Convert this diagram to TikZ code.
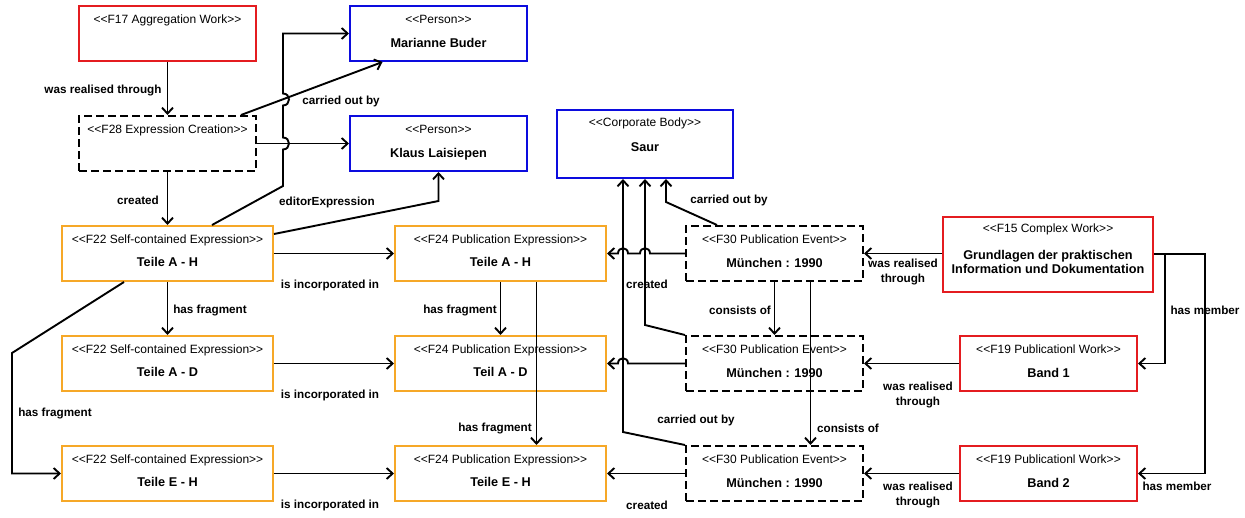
\documentclass[tikz,border=0pt]{standalone}
\usepackage{fontspec}
\setmainfont{Liberation Sans}[Ligatures=TeXOff]
\usetikzlibrary{arrows.meta}
\definecolor{cred}{RGB}{228,28,32}
\definecolor{cblue}{RGB}{12,12,222}
\definecolor{corange}{RGB}{246,168,40}
\begin{document}
\begin{tikzpicture}[x=1pt,y=-1pt,
  box/.style={draw=#1, line width=2pt, fill=white, inner sep=0pt},
  dbox/.style={draw=black, line width=2pt, fill=white, inner sep=0pt, dash pattern=on 8pt off 4pt},
  w177/.style={minimum width=177pt, minimum height=55pt},
  w211/.style={minimum width=211pt, minimum height=55pt},
  st/.style={inner sep=0pt, font=\fontsize{12}{13}\selectfont, text height=8.5pt, text depth=2.5pt},
  nm/.style={inner sep=0pt, font=\fontsize{12.7}{15}\selectfont\bfseries, text height=9pt, text depth=2.5pt},
  lb/.style={inner sep=0pt, font=\fontsize{11.7}{15}\selectfont\bfseries, align=center},
  conn/.style={draw=black, line width=1.9pt, -{Straight Barb[length=6pt,width=11pt,line width=1.9pt]}}]
\useasboundingbox (0,0) rectangle (1245,517);
% boxes
\node[box=cred, w177] (f17) at (167.5,33.5) {};
\node[dbox, w177] (f28) at (167.5,143.5) {};
\node[box=cblue, w177] (mb) at (438.5,33.5) {};
\node[box=cblue, w177] (kl) at (438.5,143.5) {};
\node[box=cblue, minimum width=176pt, minimum height=68pt] (saur) at (645,144) {};
\node[box=corange, w211] (f22ah) at (167.5,253.5) {};
\node[box=corange, w211] (f22ad) at (167.5,363.5) {};
\node[box=corange, w211] (f22eh) at (167.5,473.5) {};
\node[box=corange, w211] (f24ah) at (500.5,253.5) {};
\node[box=corange, w211] (f24ad) at (500.5,363.5) {};
\node[box=corange, w211] (f24eh) at (500.5,473.5) {};
\node[dbox, w177] (f30t) at (774.5,253.5) {};
\node[dbox, w177] (f30m) at (774.5,363.5) {};
\node[dbox, w177] (f30b) at (774.5,473.5) {};
\node[box=cred, minimum width=210pt, minimum height=75pt] (f15) at (1048,254) {};
\node[box=cred, w177] (b1) at (1048.5,363.5) {};
\node[box=cred, w177] (b2) at (1048.5,473.5) {};
% texts
\node[st] (f17s) at (167.5,20) {<<F17 Aggregation Work>>};
\node[st] (f28s) at (167.5,130) {<<F28 Expression Creation>>};
\node[st] (mbs) at (438.5,20) {<<Person>>};
\node[nm] (mbn) at (438.5,44) {Marianne Buder};
\node[st] (kls) at (438.5,130) {<<Person>>};
\node[nm] (kln) at (438.5,154) {Klaus Laisiepen};
\node[st] (saurs) at (645,123) {<<Corporate Body>>};
\node[nm] (saurn) at (645,148) {Saur};
\node[st] (f22ahs) at (167.5,240) {<<F22 Self-contained Expression>>};
\node[nm] (f22ahn) at (167.5,263) {Teile A - H};
\node[st] (f22ads) at (167.5,350) {<<F22 Self-contained Expression>>};
\node[nm] (f22adn) at (167.5,373) {Teile A - D};
\node[st] (f22ehs) at (167.5,460) {<<F22 Self-contained Expression>>};
\node[nm] (f22ehn) at (167.5,483) {Teile E - H};
\node[st] (f24ahs) at (500.5,240) {<<F24 Publication Expression>>};
\node[nm] (f24ahn) at (500.5,263) {Teile A - H};
\node[st] (f24ads) at (500.5,350) {<<F24 Publication Expression>>};
\node[nm] (f24adn) at (500.5,373) {Teil A - D};
\node[st] (f24ehs) at (500.5,460) {<<F24 Publication Expression>>};
\node[nm] (f24ehn) at (500.5,483) {Teile E - H};
\node[st] (f30ts) at (774.5,240) {<<F30 Publication Event>>};
\node[nm] (f30tn) at (774.5,264) {München : 1990};
\node[st] (f30ms) at (774.5,350) {<<F30 Publication Event>>};
\node[nm] (f30mn) at (774.5,374) {München : 1990};
\node[st] (f30bs) at (774.5,460) {<<F30 Publication Event>>};
\node[nm] (f30bn) at (774.5,484) {München : 1990};
\node[st] (f15s) at (1048,229) {<<F15 Complex Work>>};
\node[nm, align=center, text height=, text depth=] (f15n) at (1048,262) {Grundlagen der praktischen\\[-1pt]Information und Dokumentation};
\node[st] (b1s) at (1048.5,350) {<<F19 Publicationl Work>>};
\node[nm] (b1n) at (1048.5,374) {Band 1};
\node[st] (b2s) at (1048.5,460) {<<F19 Publicationl Work>>};
\node[nm] (b2n) at (1048.5,484) {Band 2};
% labels
\node[lb] (l1) at (103,90) {was realised through};
\node[lb] (l2) at (341,101) {carried out by};
\node[lb] (l3) at (138,200) {created};
\node[lb] (l4) at (327,202) {editorExpression};
\node[lb] (l5) at (330,285) {is incorporated in};
\node[lb] (l6) at (330,395) {is incorporated in};
\node[lb] (l7) at (330,505) {is incorporated in};
\node[lb] (l8) at (210,310) {has fragment};
\node[lb] (l9) at (55,413) {has fragment};
\node[lb] (l10) at (460,310) {has fragment};
\node[lb] (l11) at (495,428) {has fragment};
\node[lb] (l12) at (647,284) {created};
\node[lb] (l13) at (647,505) {created};
\node[lb] (l14) at (729,200) {carried out by};
\node[lb] (l15) at (740,310) {consists of};
\node[lb] (l16) at (696,420) {carried out by};
\node[lb] (l17) at (848,428) {consists of};
\node[lb] (l18) at (903,272) {was realised\\through};
\node[lb] (l19) at (918,395) {was realised\\through};
\node[lb] (l20) at (918,495) {was realised\\through};
\node[lb] (l21) at (1205,310) {has member};
\node[lb] (l22) at (1177,486) {has member};
% connectors
\draw[conn] (f17.south) -- (f28.north);
\draw[conn] ([xshift=-16pt]f28.north east) -- ([xshift=-56pt]mb.south);
\draw[conn] (f28.east) -- (kl.west);
\draw[conn] (f28.south) -- (f22ah.north);
\draw[conn] ([xshift=44.5pt]f22ah.north) -- (283,186) -- (283,149.5)
  .. controls (291,149.5) and (291,137.5) .. (283,137.5) -- (283,105.5)
  .. controls (291,105.5) and (291,93.5) .. (283,93.5) -- (283,33.5) -- (mb.west);
\draw[conn] ([yshift=-9pt]f22ah.north east) -- (438.5,201) -- (kl.south);
\draw[conn] (f22ah.east) -- (f24ah.west);
\draw[conn] (f22ad.east) -- (f24ad.west);
\draw[conn] (f22eh.east) -- (f24eh.west);
\draw[conn] (f22ah.south) -- (f22ad.north);
\draw[conn] ([xshift=-43.5pt]f22ah.south) -- (12,353) -- (12,473.5) -- (f22eh.west);
\draw[conn] (f24ah.south) -- (f24ad.north);
\draw[conn] ([xshift=36pt]f24ah.south) -- ([xshift=36pt]f24eh.north);
\draw[conn] (f30t.west) -- (650,253.5) .. controls (650,246.5) and (640,246.5) .. (640,253.5)
  -- (628,253.5) .. controls (628,246.5) and (618,246.5) .. (618,253.5) -- (f24ah.east);
\draw[conn] (f30m.west) -- (628,363.5) .. controls (628,356.5) and (618,356.5) .. (618,363.5) -- (f24ad.east);
\draw[conn] (f30b.west) -- (f24eh.east);
\draw[conn] ([xshift=-57.5pt]f30t.north) -- (666,202) -- ([xshift=21pt]saur.south);
\draw[conn] (f30m.north west) -- (645,325) -- (saur.south);
\draw[conn] (f30b.north west) -- (623,432) -- ([xshift=-22pt]saur.south);
\draw[conn] (f30t.south) -- (f30m.north);
\draw[conn] ([xshift=36pt]f30t.south) -- ([xshift=36pt]f30b.north);
\draw[conn] (f15.west |- f30t.east) -- (f30t.east);
\draw[conn] (b1.west) -- (f30m.east);
\draw[conn] (b2.west) -- (f30b.east);
\draw[conn] (f15.east) -- (1165,254) -- (1165,363.5) -- (b1.east);
\draw[conn] (f15.east) -- (1205,254) -- (1205,473.5) -- (b2.east);
\end{tikzpicture}
\end{document}
